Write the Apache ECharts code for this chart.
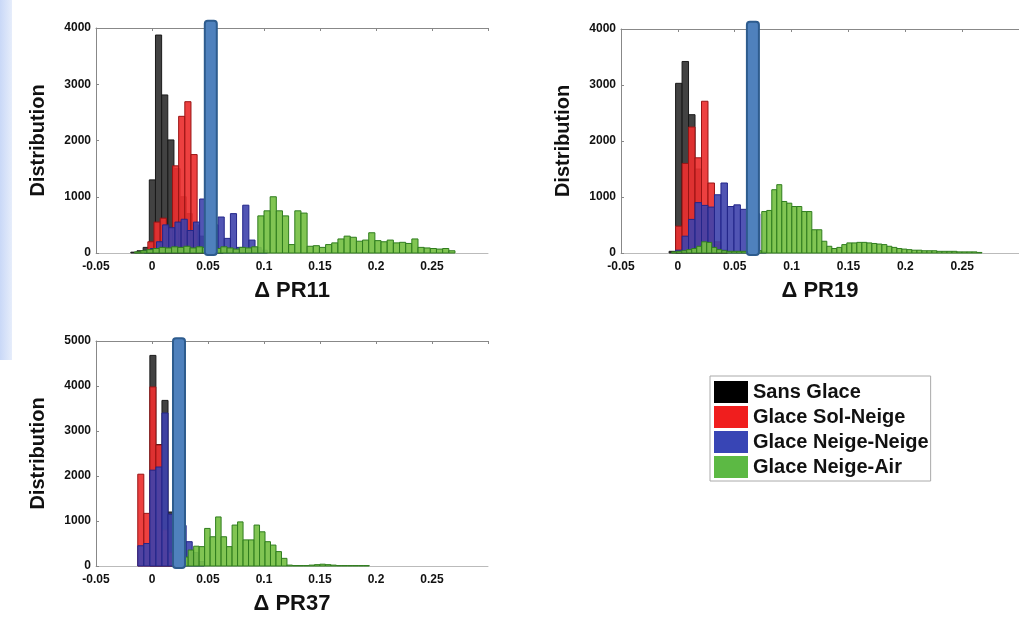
<!DOCTYPE html>
<html>
<head>
<meta charset="utf-8">
<script src="https://cdn.jsdelivr.net/npm/echarts@6/dist/echarts.min.js"></script>
<style>
  html, body { margin: 0; padding: 0; background: #fff; }
  #chart { width: 1019px; height: 621px; }
</style>
</head>
<body>
<div id="chart"></div>
<script>
// legend / series names
const seriesNames = ['Sans Glace', 'Glace Sol-Neige', 'Glace Neige-Neige', 'Glace Neige-Air'];
const axisNames = ['\u0394 PR11', '\u0394 PR19', '\u0394 PR37'];
const yMaxes = [4000, 4000, 5000];
const thresholds = [0.0525, 0.066, 0.0241];
const thresholdTops = [4130, 4130, 5060];

// histogram counts per bin, with first bin edge and bin width
// PR11
const black11 = [15, 40, 100, 1300, 3875, 2810, 2010, 1500, 1000, 700, 500, 300, 150, 60, 20];
const red11 = [200, 550, 620, 450, 1550, 2430, 2690, 1750, 100];
const blue11 = [40, 80, 200, 500, 450, 550, 600, 400, 550, 960, 600, 500, 640, 260, 700, 100, 850, 230, 100, 50];
const green11 = [20, 40, 60, 80, 100, 90, 110, 100, 120, 90, 110, 100, 90, 80, 110, 90, 70, 100, 90, 110,
  660, 750, 1000, 750, 660, 150, 750, 710, 120, 130, 100, 150, 180, 250, 300, 280, 210, 230, 360, 220,
  200, 230, 180, 190, 170, 250, 100, 90, 80, 70, 80, 40];
const starts11 = [-0.0189, -0.0037, -0.007, -0.0155];
const widths11 = [0.0055, 0.0055, 0.0055, 0.0055];

// PR19
const black19 = [30, 3030, 3420, 2470, 1500, 800, 400, 150, 50];
const red19 = [0, 480, 1600, 2250, 1700, 2710, 1250, 200, 30];
const blue19 = [0, 50, 300, 600, 900, 850, 820, 1040, 1250, 830, 860, 780, 750, 700, 30];
const green19 = [20, 30, 40, 60, 80, 120, 200, 190, 100, 60, 40, 30, 30, 30, 30, 30, 30, 40,
  740, 760, 1130, 1220, 920, 890, 830, 830, 740, 740, 415, 415, 210, 120, 80, 100, 150, 180, 180, 190,
  190, 180, 170, 160, 150, 120, 100, 80, 70, 60, 50, 50, 40, 40, 40, 30, 30, 30, 30, 20, 20, 20, 20, 10];
const starts19 = [-0.0077, -0.0077, -0.0077, -0.0054];
const widths19 = [0.0057, 0.0057, 0.0057, 0.0044];

// PR37
const black37 = [0, 0, 4680, 2700, 3680, 1200, 200, 50];
const red37 = [2040, 1170, 3980, 2690, 800, 300, 50];
const blue37 = [450, 500, 2130, 2200, 3400, 1150, 1100, 900, 540, 300, 100];
const green37 = [200, 355, 440, 430, 835, 650, 1090, 650, 430, 910, 980, 580, 580, 910, 760, 540, 465, 320, 170,
  20, 10, 10, 10, 20, 30, 40, 30, 20, 10, 10, 10, 10, 10, 10];
const starts37 = [-0.0127, -0.0127, -0.0127, 0.0274];
const widths37 = [0.0054, 0.0054, 0.0054, 0.0049];

const counts = [
  [black11, red11, blue11, green11],
  [black19, red19, blue19, green19],
  [black37, red37, blue37, green37]
];
const starts = [starts11, starts19, starts37];
const widths = [widths11, widths19, widths37];

const legendColors = ['#000000', '#f01e1e', '#3845b5', '#5cb944'];
const barFills = ['rgba(50,50,50,0.92)', 'rgba(236,48,48,0.92)', 'rgba(62,66,172,0.9)', 'rgba(118,192,68,0.92)'];
const barEdges = ['#1a1a1a', '#9a1414', '#23268a', '#2f7d1e'];

const font = '"Liberation Sans", Arial, sans-serif';
const gridBoxes = [
  { left: 96, top: 28, width: 392, height: 225 },
  { left: 621, top: 29, width: 402, height: 224 },
  { left: 96, top: 341, width: 392, height: 225 }
];

const chart = echarts.init(document.getElementById('chart'));

const xAxes = [];
const yAxes = [];
const series = [];

gridBoxes.forEach((g, i) => {
  xAxes.push({
    type: 'value', gridIndex: i, min: -0.05, max: 0.3, interval: 0.05,
    name: axisNames[i], nameLocation: 'middle', nameGap: 27,
    nameTextStyle: { fontFamily: font, fontWeight: 'bold', fontSize: 22, color: '#111' },
    axisLine: { show: true, onZero: false, lineStyle: { color: '#bbb', width: 1 } },
    axisTick: { show: false },
    axisLabel: {
      fontFamily: font, fontWeight: 'bold', fontSize: 12, color: '#111', margin: 8,
      showMaxLabel: false, formatter: v => String(+v.toFixed(2))
    },
    splitLine: { show: false }
  });
  xAxes.push({
    type: 'value', gridIndex: i, position: 'top', min: -0.05, max: 0.3, interval: 0.05,
    axisLine: { show: true, onZero: false, lineStyle: { color: '#888', width: 1 } },
    axisTick: { show: true, inside: true, length: 3, lineStyle: { color: '#888' } },
    axisLabel: { show: false },
    splitLine: { show: false }
  });
  yAxes.push({
    type: 'value', gridIndex: i, min: 0, max: yMaxes[i], interval: 1000,
    name: 'Distribution', nameLocation: 'middle', nameGap: 48,
    nameTextStyle: { fontFamily: font, fontWeight: 'bold', fontSize: 20, color: '#111' },
    axisLine: { show: true, onZero: false, lineStyle: { color: '#888', width: 1 } },
    axisTick: { show: true, inside: true, length: 3, lineStyle: { color: '#888' } },
    axisLabel: {
      fontFamily: font, fontWeight: 'bold', fontSize: 12, color: '#111', margin: 5,
      formatter: v => String(v)
    },
    splitLine: { show: false }
  });

  counts[i].forEach((arr, k) => {
    const w = widths[i][k];
    const data = arr.map((c, j) => [starts[i][k] + j * w, c]);
    series.push({
      type: 'custom',
      name: seriesNames[k],
      xAxisIndex: 2 * i,
      yAxisIndex: i,
      z: 2 + k,
      itemStyle: { color: legendColors[k] },
      encode: { x: 0, y: 1 },
      data: data,
      renderItem: (params, api) => {
        const x0 = api.value(0);
        const c = api.value(1);
        if (!c) return null;
        const p0 = api.coord([x0, 0]);
        const p1 = api.coord([x0 + w, c]);
        return {
          type: 'rect',
          shape: { x: p0[0], y: p1[1], width: p1[0] - p0[0], height: p0[1] - p1[1] },
          style: { fill: barFills[k], stroke: barEdges[k], lineWidth: 1 }
        };
      }
    });
  });

  series.push({
    type: 'custom',
    name: 'seuil',
    xAxisIndex: 2 * i,
    yAxisIndex: i,
    z: 10,
    clip: false,
    data: [[thresholds[i], thresholdTops[i]]],
    renderItem: (params, api) => {
      const x = api.value(0);
      const p0 = api.coord([x, 0]);
      const p1 = api.coord([x, api.value(1)]);
      return {
        type: 'rect',
        shape: { x: p0[0] - 6, y: p1[1], width: 12, height: p0[1] - p1[1] + 2, r: 3 },
        style: { fill: '#4f81bd', stroke: '#2e5c8e', lineWidth: 2 }
      };
    }
  });
});

chart.setOption({
  backgroundColor: '#fff',
  animation: false,
  grid: gridBoxes,
  xAxis: xAxes,
  yAxis: yAxes,
  legend: {
    data: seriesNames,
    orient: 'vertical',
    left: 710,
    top: 376,
    itemWidth: 34,
    itemHeight: 22,
    itemGap: 3,
    icon: 'rect',
    selectedMode: false,
    backgroundColor: '#fff',
    borderColor: '#aaa',
    borderWidth: 1,
    padding: [5, 2, 3, 4],
    textStyle: { fontFamily: font, fontWeight: 'bold', fontSize: 20, color: '#111' }
  },
  graphic: [{
    type: 'rect',
    left: 0, top: 0,
    shape: { width: 12, height: 360 },
    style: {
      fill: new echarts.graphic.LinearGradient(0, 0, 1, 0, [
        { offset: 0, color: '#c9d8f7' },
        { offset: 1, color: '#e6edfb' }
      ])
    },
    silent: true
  }],
  series: series
});
</script>
</body>
</html>
